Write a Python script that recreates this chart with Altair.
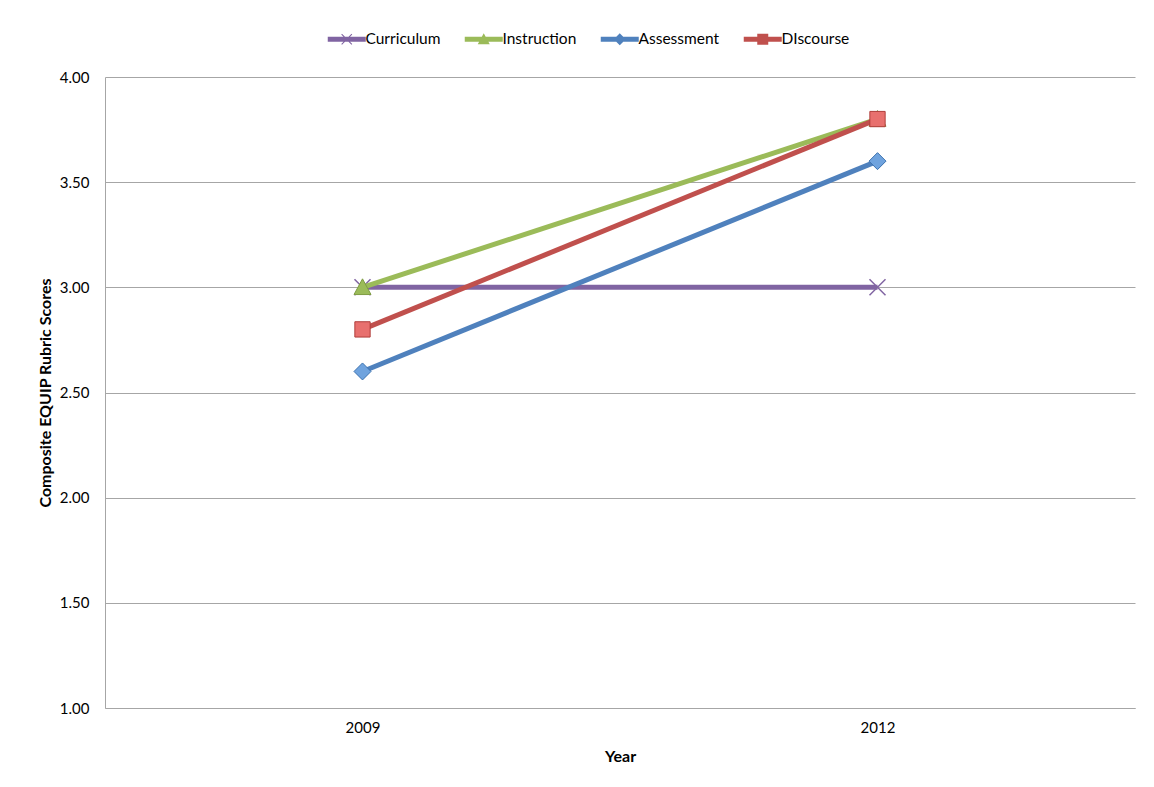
import altair as alt
import pandas as pd

years = ["2009", "2012"]
series = ["Curriculum", "Instruction", "Assessment", "DIscourse"]
curriculum = [3.0, 3.0]
instruction = [3.0, 3.8]
assessment = [2.6, 3.6]
discourse = [2.8, 3.8]
y_ticks = [1.0, 1.5, 2.0, 2.5, 3.0, 3.5, 4.0]

values = [curriculum, instruction, assessment, discourse]
rows = []
for s, vals in zip(series, values):
    for yr, v in zip(years, vals):
        rows.append({"year": yr, "series": s, "score": v})
df = pd.DataFrame(rows)

line_colors = ["#8064A2", "#9BBB59", "#4F81BD", "#C0504D"]
marker_fill = ["#8064A2", "#9BBB59", "#6FA3DE", "#E8706E"]
marker_stroke = ["#8064A2", "#7E9C43", "#3C72B0", "#B03E3B"]

X_PATH = "M-1,-1L1,1M-1,1L1,-1"
TRI_PATH = "M0,-1L1,0.85L-1,0.85Z"
DIA_PATH = "M0,-1L1,0L0,1L-1,0Z"
SQ_PATH = "M-0.9,-0.9L0.9,-0.9L0.9,0.9L-0.9,0.9Z"
marker_paths = [X_PATH, TRI_PATH, DIA_PATH, SQ_PATH]

BAR = "M-3.8,-0.5L3.8,-0.5L3.8,0.5L-3.8,0.5Z"
legend_paths = [
    BAR + "M-1.1,-0.95L-0.95,-1.1L1.1,0.95L0.95,1.1ZM0.95,-1.1L1.1,-0.95L-0.95,1.1L-1.1,0.95Z",
    BAR + "M0,-1.2L1.2,1L-1.2,1Z",
    BAR + "M0,-1.2L1.2,0L0,1.2L-1.2,0Z",
    BAR + "M-1.1,-1.1L1.1,-1.1L1.1,1.1L-1.1,1.1Z",
]

x_enc = alt.X(
    "year:O",
    scale=alt.Scale(type="point", padding=0.5),
    axis=alt.Axis(title="Year", labelAngle=0, ticks=False, grid=False,
                  labelPadding=12, titlePadding=13),
)
y_enc = alt.Y(
    "score:Q",
    scale=alt.Scale(domain=[1, 4], nice=False, zero=False),
    axis=alt.Axis(title="Composite EQUIP Rubric Scores", values=y_ticks,
                  format=".2f", ticks=False, labelPadding=16, titlePadding=6),
)

layers = []
for i, s in enumerate(series):
    sub = alt.Chart(df).transform_filter(alt.datum.series == s)
    line = sub.mark_line(color=line_colors[i], strokeWidth=5).encode(x=x_enc, y=y_enc)
    if i == 0:
        pts = sub.mark_point(shape=marker_paths[i], filled=False, color=line_colors[i],
                             strokeWidth=1.5, size=256, opacity=1).encode(x=x_enc, y=y_enc)
    else:
        pts = sub.mark_point(shape=marker_paths[i], filled=True, fill=marker_fill[i],
                             stroke=marker_stroke[i], strokeWidth=1, size=289,
                             opacity=1).encode(x=x_enc, y=y_enc)
    layers += [line, pts]

legend_layer = alt.Chart(df).mark_point(filled=True, opacity=0).encode(
    x=x_enc,
    y=y_enc,
    color=alt.Color("series:N", scale=alt.Scale(domain=series, range=line_colors), title=None),
    shape=alt.Shape("series:N", scale=alt.Scale(domain=series, range=legend_paths), title=None),
)

chart = alt.layer(*layers, legend_layer).properties(
    width=1030,
    height=631,
    autosize=alt.AutoSizeParams(type="none"),
    padding={"left": 97, "top": 69, "right": 11, "bottom": 63},
).configure_view(
    stroke=None
).configure_axis(
    labelFont="Lato", labelFontSize=15, labelColor="#000000",
    titleFont="Lato", titleFontSize=16, titleFontWeight="bold", titleColor="#000000",
    gridColor="#A6A6A6", gridWidth=1, domainColor="#A6A6A6", domainWidth=1,
).configure_legend(
    orient="none", legendX=220, legendY=-46, direction="horizontal",
    symbolSize=100, symbolOpacity=1, symbolStrokeWidth=0, symbolOffset=14,
    labelOffset=11, labelFont="Lato", labelFontSize=15.5, labelColor="#000000",
    columnPadding=21, columns=4,
)

chart.save("out.html", embed_options={"renderer": "svg", "actions": False})
